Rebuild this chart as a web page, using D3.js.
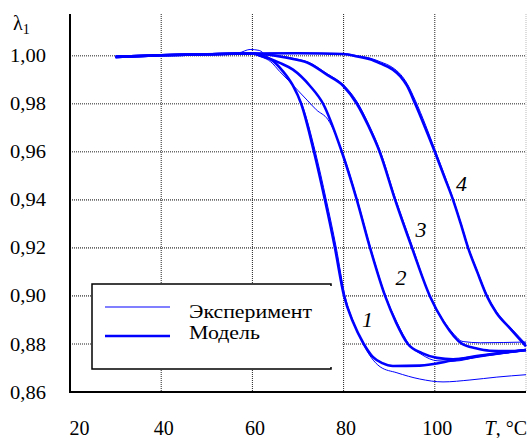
<!DOCTYPE html>
<html>
<head>
<meta charset="utf-8">
<script src="https://cdn.jsdelivr.net/npm/d3@7"></script>
<style>
  body { margin: 0; background: #fff; }
  svg text { font-family: "Times New Roman", "Liberation Serif", "DejaVu Serif", serif; }
</style>
</head>
<body>
<div id="chart"></div>
<script>
/* DATA */
const xTicks = [20, 40, 60, 80, 100];
const yTicks = [0.86, 0.88, 0.90, 0.92, 0.94, 0.96, 0.98, 1.00];
const seriesNames = ["Эксперимент", "Модель"];
const curveLabels = ["1", "2", "3", "4"];

// curve 1
const t1Model = [30, 40, 50, 60, 62, 64, 66.7, 68.9, 70.7, 73.5, 75.9, 78.1, 80.1, 82.1, 84.3, 86.4, 88.5, 90.8, 96.7, 105, 112, 120];
const l1Model = [0.9995, 1.0002, 1.0006, 1.0009, 0.9998, 0.9985, 0.9935, 0.9875, 0.980, 0.960, 0.940, 0.920, 0.900, 0.889, 0.8804, 0.8746, 0.8720, 0.8708, 0.8710, 0.8735, 0.8755, 0.8775];
const t1Exp = [30, 40, 50, 57, 59.5, 61.5, 63, 65, 67, 69, 71, 73.8, 76.2, 78.4, 80.3, 82.2, 84.3, 86, 88, 91.7, 96.7, 101.8, 107.7, 113.6, 120];
const l1Exp = [0.9995, 1.0002, 1.0006, 1.0012, 1.0026, 1.0022, 1.0000, 0.9970, 0.9925, 0.9870, 0.9790, 0.960, 0.940, 0.920, 0.900, 0.889, 0.8800, 0.8745, 0.8705, 0.8680, 0.8654, 0.8642, 0.8650, 0.8662, 0.8672];

// curve 2
const t2Model = [30, 40, 50, 60, 63.5, 66, 68.9, 72.6, 75.5, 79.6, 82.9, 85.8, 89.1, 91.5, 94.1, 97.2, 100.5, 104, 110, 120];
const l2Model = [0.9995, 1.0002, 1.0006, 1.0009, 0.9990, 0.9970, 0.9942, 0.9875, 0.980, 0.960, 0.940, 0.920, 0.900, 0.889, 0.880, 0.8762, 0.8742, 0.8736, 0.8752, 0.8775];
const t2Exp = [30, 40, 50, 60, 62, 64, 66, 68, 70, 72, 74, 76.6, 79.7, 83, 85.9, 89.2, 91.7, 94.3, 97.2, 100.5, 104, 110, 120];
const l2Exp = [0.9995, 1.0002, 1.0006, 1.0009, 0.9995, 0.9975, 0.9934, 0.9895, 0.9855, 0.9815, 0.9775, 0.9733, 0.960, 0.940, 0.920, 0.900, 0.889, 0.880, 0.8755, 0.8730, 0.8728, 0.8748, 0.8772];

// curve 3
const t3Model = [30, 40, 50, 60, 65, 70, 72, 76.4, 79.9, 82.9, 85.5, 87.9, 91.3, 95, 98.9, 102, 106, 109, 112, 116, 120];
const l3Model = [0.9995, 1.0002, 1.0006, 1.0009, 1.0000, 0.9982, 0.9972, 0.9920, 0.9875, 0.980, 0.9705, 0.960, 0.940, 0.920, 0.900, 0.8890, 0.8800, 0.8782, 0.8772, 0.8770, 0.8775];
const t3Exp = [30, 40, 50, 60, 65, 70, 72, 76.4, 79.9, 82.9, 85.5, 87.9, 91.3, 95, 98.9, 102, 104, 106.2, 110, 115, 120];
const l3Exp = [0.9995, 1.0002, 1.0006, 1.0009, 1.0002, 0.9985, 0.9975, 0.9925, 0.9880, 0.981, 0.9715, 0.961, 0.941, 0.921, 0.900, 0.8895, 0.8845, 0.8810, 0.8805, 0.8806, 0.8808];

// curve 4
const t4Model = [30, 40, 50, 60, 70, 79.9, 83, 85.8, 88, 90.8, 92.5, 93.9, 95.7, 98, 100, 102, 104, 105.7, 107.3, 109.3, 111.4, 113.5, 116.5, 118.5, 120];
const l4Model = [0.9995, 1.0002, 1.0006, 1.0009, 1.0010, 1.0007, 0.9997, 0.9985, 0.9968, 0.9942, 0.9913, 0.9875, 0.980, 0.9695, 0.960, 0.950, 0.940, 0.930, 0.920, 0.910, 0.900, 0.8930, 0.8865, 0.8822, 0.8790];
const t4Exp = [30, 40, 50, 60, 70, 79.9, 83, 85.8, 88, 90.8, 92.5, 93.9, 95.7, 98, 100, 102, 104, 105.7, 107.3, 109.3, 111.4, 113.5, 116.5, 118.5, 120];
const l4Exp = [0.9995, 1.0002, 1.0006, 1.0009, 1.0011, 1.0009, 1.0000, 0.9990, 0.9975, 0.9950, 0.9922, 0.9885, 0.9815, 0.9710, 0.961, 0.951, 0.9405, 0.9305, 0.9205, 0.9105, 0.9005, 0.8935, 0.8870, 0.8830, 0.8800];

/* CONSTANTS */
const width = 531;
const height = 438;
const plotLeft = 70, plotRight = 526, plotTop = 14, plotBottom = 392;
const blue = "#0000ff";
const serif = "'Times New Roman', 'Liberation Serif', 'DejaVu Serif', serif";

const svg = d3.select("#chart")
    .append("svg")
    .attr("width", width)
    .attr("height", height);

/* SCALES */
const xScale = d3.scaleLinear()
    .domain([20, 120])
    .range([plotLeft, plotRight]);

const yScale = d3.scaleLinear()
    .domain([0.86, 1.00])
    .range([plotBottom, 55.7]);

/* GRID */
svg.append("g")
    .selectAll("line")
    .data(yTicks.slice(1))
    .join("line")
    .attr("x1", plotLeft)
    .attr("x2", plotRight)
    .attr("y1", d => yScale(d))
    .attr("y2", d => yScale(d))
    .attr("stroke", "#6a6a6a")
    .attr("stroke-width", 1.6)
    .attr("stroke-dasharray", "1,1");

svg.append("g")
    .selectAll("line")
    .data(xTicks.slice(1))
    .join("line")
    .attr("x1", d => xScale(d))
    .attr("x2", d => xScale(d))
    .attr("y1", plotTop)
    .attr("y2", plotBottom)
    .attr("stroke", "#222")
    .attr("stroke-width", 1)
    .attr("stroke-dasharray", "1,1");

// light right border
svg.append("line")
    .attr("x1", plotRight).attr("x2", plotRight)
    .attr("y1", plotTop).attr("y2", plotBottom)
    .attr("stroke", "#bbb")
    .attr("stroke-dasharray", "1,1");

/* LEGEND BOX (white, covers grid) */
svg.append("rect")
    .attr("x", 92).attr("y", 284)
    .attr("width", xScale(80) - 92 - 1)
    .attr("height", 85)
    .attr("fill", "#fff");

svg.append("path")
    .attr("d", "M331,286 V284 H92 V369 H331 V367")
    .attr("fill", "none")
    .attr("stroke", "#000")
    .attr("stroke-width", 1.5);

const legend = svg.append("g");
legend.selectAll("line")
    .data(seriesNames)
    .join("line")
    .attr("x1", 105).attr("x2", 170)
    .attr("y1", (d, i) => i === 0 ? 307 : 336)
    .attr("y2", (d, i) => i === 0 ? 307 : 336)
    .attr("stroke", blue)
    .attr("stroke-width", (d, i) => i === 0 ? 1 : 2.6);
legend.selectAll("text")
    .data(seriesNames)
    .join("text")
    .attr("transform", (d, i) => `translate(189,${i === 0 ? 317.5 : 338.5}) scale(1.15,1)`)
    .style("font-family", serif)
    .style("font-size", "19px")
    .text(d => d);

/* AXES */
const yAxis = d3.axisLeft(yScale)
    .tickValues(yTicks)
    .tickSize(0)
    .tickPadding(24)
    .tickFormat(d => d3.format(".2f")(d).replace(".", ","));
svg.append("g")
    .attr("transform", `translate(${plotLeft},0)`)
    .call(yAxis)
    .attr("font-family", null)
    .call(g => g.select(".domain").remove())
    .selectAll("text")
    .style("font-size", "19px")
    .style("font-family", serif)
    .attr("fill", "#000")
    .attr("x", 0)
    .attr("transform", "translate(-24,0) scale(1.08,1)");

const xAxis = d3.axisBottom(xScale)
    .tickValues(xTicks)
    .tickSize(0)
    .tickPadding(29);
svg.append("g")
    .attr("transform", `translate(0,${plotBottom})`)
    .call(xAxis)
    .attr("font-family", null)
    .call(g => g.select(".domain").remove())
    .selectAll("text")
    .style("font-size", "20px")
    .style("font-family", serif)
    .attr("fill", "#000")
    .attr("dx", d => d === 20 ? 9 : 2);

// axis lines
svg.append("path")
    .attr("d", `M${plotLeft},${plotTop} V${plotBottom} H${plotRight}`)
    .attr("fill", "none")
    .attr("stroke", "#000")
    .attr("stroke-width", 2);

// axis titles
const yTitle = svg.append("text")
    .attr("x", 13)
    .attr("y", 30)
    .style("font-family", serif)
    .style("font-size", "20px");
yTitle.append("tspan").text("λ");
yTitle.append("tspan").attr("dy", 4).style("font-size", "14px").text("1");

const xTitle = svg.append("text")
    .attr("x", 527)
    .attr("y", 435)
    .attr("text-anchor", "end")
    .style("font-family", serif)
    .style("font-size", "20px");
xTitle.append("tspan").style("font-style", "italic").text("T");
xTitle.append("tspan").text(", °C");

/* CURVES */
const line = d3.line()
    .x(d => xScale(d[0]))
    .y(d => yScale(d[1]))
    .curve(d3.curveMonotoneX);

const expSeries = [[t1Exp, l1Exp], [t2Exp, l2Exp], [t3Exp, l3Exp], [t4Exp, l4Exp]];
const modelSeries = [[t1Model, l1Model], [t2Model, l2Model], [t3Model, l3Model], [t4Model, l4Model]];

const plot = svg.append("g");

plot.selectAll(".exp")
    .data(expSeries)
    .join("path")
    .attr("class", "exp")
    .attr("d", d => line(d3.zip(d[0], d[1])))
    .attr("fill", "none")
    .attr("stroke", blue)
    .attr("stroke-width", 1);

plot.selectAll(".model")
    .data(modelSeries)
    .join("path")
    .attr("class", "model")
    .attr("d", d => line(d3.zip(d[0], d[1])))
    .attr("fill", "none")
    .attr("stroke", blue)
    .attr("stroke-width", 2.6);

// curve numbers
const labelPos = [[367.5, 327], [401, 285], [421, 237], [461.5, 191]];
svg.selectAll(".clabel")
    .data(curveLabels)
    .join("text")
    .attr("class", "clabel")
    .attr("x", (d, i) => labelPos[i][0])
    .attr("y", (d, i) => labelPos[i][1])
    .attr("text-anchor", "middle")
    .style("font-family", serif)
    .style("font-size", "22px")
    .style("font-style", "italic")
    .text(d => d);
</script>
</body>
</html>
